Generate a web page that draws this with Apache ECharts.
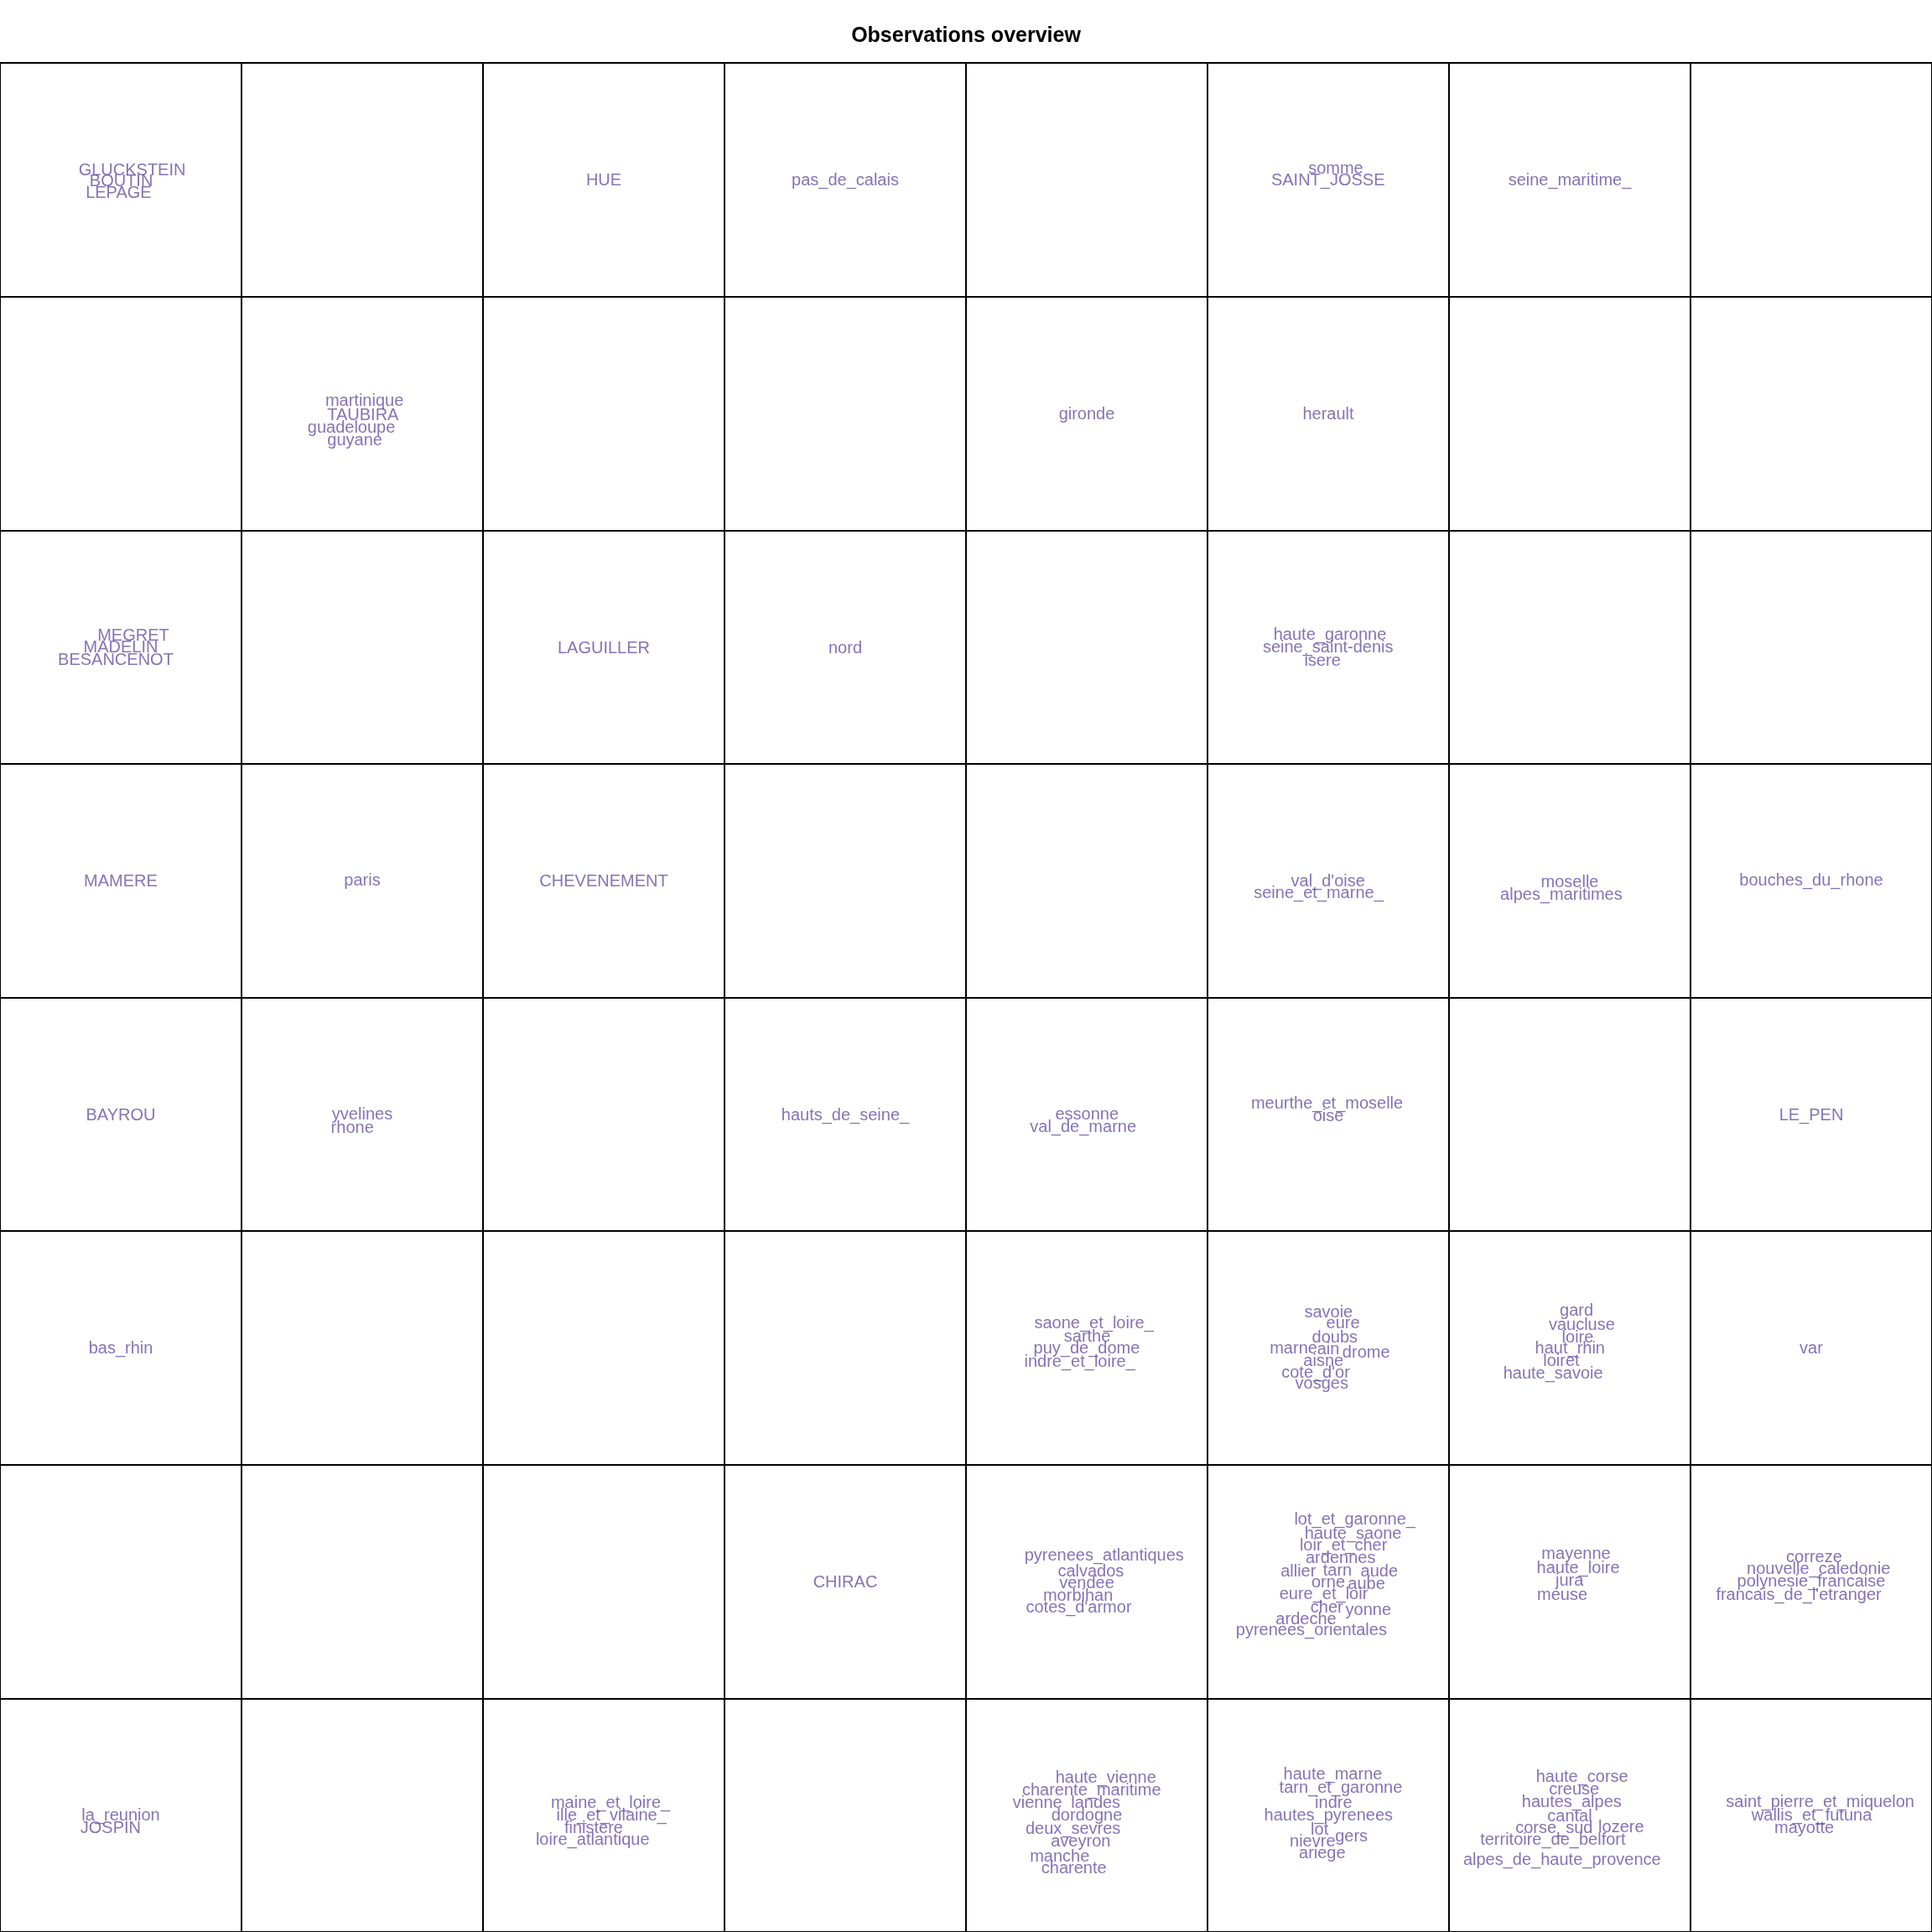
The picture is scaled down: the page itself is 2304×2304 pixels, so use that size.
<!DOCTYPE html>
<html>
<head>
<meta charset="utf-8">
<title>Observations overview</title>
<script src="https://cdn.jsdelivr.net/npm/echarts@6/dist/echarts.min.js"></script>
<style>
  html, body { margin: 0; padding: 0; background: #fff; }
  #conMain { width: 2304px; height: 2304px; }
</style>
</head>
<body>
<div id="conMain"></div>
<script>
// map is 8 x 8 cells, positions in cell units (x from left, y from top)
var mapCols = 8;
var mapRows = 8;

var obsNames = [
  'GLUCKSTEIN', 'BOUTIN', 'LEPAGE', 'HUE', 'pas_de_calais', 'somme', 'SAINT_JOSSE', 'seine_maritime_',
  'martinique', 'TAUBIRA', 'guadeloupe', 'guyane', 'gironde', 'herault',
  'MEGRET', 'MADELIN', 'BESANCENOT', 'LAGUILLER', 'nord', 'haute_garonne', 'seine_saint-denis', 'isere',
  'MAMERE', 'paris', 'CHEVENEMENT', "val_d'oise", 'seine_et_marne_', 'moselle', 'alpes_maritimes', 'bouches_du_rhone',
  'BAYROU', 'yvelines', 'rhone', 'hauts_de_seine_', 'essonne', 'val_de_marne', 'meurthe_et_moselle', 'oise', 'LE_PEN',
  'bas_rhin', 'saone_et_loire_', 'sarthe', 'puy_de_dome', 'indre_et_loire_',
  'savoie', 'eure', 'doubs', 'marne', 'ain', 'drome', 'aisne', "cote_d'or", 'vosges',
  'gard', 'vaucluse', 'loire', 'haut_rhin', 'loiret', 'haute_savoie', 'var',
  'CHIRAC', 'pyrenees_atlantiques', 'calvados', 'vendee', 'morbihan', "cotes_d'armor",
  'lot_et_garonne_', 'haute_saone', 'loir_et_cher', 'ardennes', 'allier', 'tarn', 'aude', 'orne', 'aube',
  'eure_et_loir', 'cher', 'yonne', 'ardeche', 'pyrenees_orientales',
  'mayenne', 'haute_loire', 'jura', 'meuse',
  'correze', 'nouvelle_caledonie', 'polynesie_francaise', "francais_de_l'etranger",
  'la_reunion', 'JOSPIN', 'maine_et_loire_', 'ille_et_vilaine_', 'finistere', 'loire_atlantique',
  'haute_vienne', 'charente_maritime', 'vienne', 'landes', 'dordogne', 'deux_sevres', 'aveyron', 'manche', 'charente',
  'haute_marne', 'tarn_et_garonne', 'indre', 'hautes_pyrenees', 'lot', 'nievre', 'gers', 'ariege',
  'haute_corse', 'creuse', 'hautes_alpes', 'cantal', 'corse_sud', 'lozere', 'territoire_de_belfort', 'alpes_de_haute_provence',
  'saint_pierre_et_miquelon', 'wallis_et_futuna', 'mayotte'
];

var obsX = [
  0.547, 0.502, 0.491, 2.5, 3.5, 5.531, 5.499, 6.5,
  1.509, 1.503, 1.455, 1.469, 4.5, 5.5,
  0.552, 0.5, 0.479, 2.5, 3.5, 5.507, 5.499, 5.476,
  0.5, 1.5, 2.5, 5.499, 5.46, 6.5, 6.465, 7.5,
  0.5, 1.5, 1.459, 3.5, 4.501, 4.485, 5.495, 5.5, 7.5,
  0.5, 4.53, 4.502, 4.5, 4.471,
  5.501, 5.561, 5.527, 5.356, 5.5, 5.657, 5.48, 5.448, 5.473,
  6.528, 6.55, 6.533, 6.501, 6.465, 6.431, 7.5,
  3.5, 4.572, 4.517, 4.5, 4.464, 4.467,
  5.61, 5.603, 5.563, 5.551, 5.376, 5.538, 5.711, 5.5, 5.658,
  5.481, 5.494, 5.666, 5.408, 5.43,
  6.526, 6.535, 6.499, 6.469,
  7.512, 7.53, 7.5, 7.448,
  0.5, 0.458, 2.528, 2.532, 2.458, 2.454,
  4.579, 4.52, 4.296, 4.537, 4.5, 4.443, 4.475, 4.388, 4.447,
  5.519, 5.552, 5.522, 5.501, 5.464, 5.435, 5.596, 5.475,
  6.551, 6.518, 6.508, 6.5, 6.435, 6.713, 6.43, 6.468,
  7.537, 7.502, 7.471
];

var obsY = [
  0.456, 0.502, 0.553, 0.5, 0.5, 0.449, 0.499, 0.5,
  1.441, 1.505, 1.559, 1.613, 1.5, 1.5,
  2.447, 2.498, 2.55, 2.5, 2.5, 2.444, 2.499, 2.555,
  3.5, 3.496, 3.5, 3.499, 3.551, 3.503, 3.557, 3.496,
  4.5, 4.497, 4.556, 4.5, 4.497, 4.551, 4.449, 4.504, 4.5,
  5.5, 5.392, 5.447, 5.5, 5.555,
  5.344, 5.392, 5.453, 5.5, 5.503, 5.516, 5.551, 5.604, 5.65,
  5.336, 5.399, 5.451, 5.5, 5.553, 5.605, 5.5,
  6.5, 6.386, 6.453, 6.505, 6.558, 6.607,
  6.231, 6.293, 6.343, 6.397, 6.453, 6.449, 6.453, 6.499, 6.506,
  6.55, 6.608, 6.618, 6.658, 6.705,
  6.377, 6.439, 6.494, 6.553,
  6.391, 6.444, 6.497, 6.555,
  7.498, 7.553, 7.445, 7.498, 7.553, 7.603,
  7.336, 7.39, 7.444, 7.444, 7.498, 7.556, 7.609, 7.675, 7.723,
  7.322, 7.379, 7.444, 7.499, 7.558, 7.609, 7.588, 7.659,
  7.331, 7.387, 7.441, 7.502, 7.553, 7.546, 7.603, 7.687,
  7.441, 7.499, 7.553
];

var labelData = [];
for (var i = 0; i < obsNames.length; i++) {
  labelData.push({ name: obsNames[i], value: [obsX[i], obsY[i]] });
}

var myChart = echarts.init(document.getElementById('conMain'));

var option = {
  animation: false,
  backgroundColor: '#ffffff',
  title: {
    text: 'Observations overview',
    left: 'center',
    top: 26,
    textStyle: {
      fontFamily: 'Liberation Sans',
      fontSize: 25,
      fontWeight: 'bold',
      color: '#000000'
    }
  },
  grid: { left: 0, right: 0, top: 75, bottom: 0 },
  xAxis: {
    type: 'value',
    min: 0,
    max: mapCols,
    interval: 1,
    axisLabel: { show: false },
    axisTick: { show: false },
    axisLine: { show: true, lineStyle: { color: '#000', width: 2 } },
    splitLine: { show: true, lineStyle: { color: '#000', width: 2 } }
  },
  yAxis: {
    type: 'value',
    inverse: true,
    min: 0,
    max: mapRows,
    interval: 1,
    axisLabel: { show: false },
    axisTick: { show: false },
    axisLine: { show: true, lineStyle: { color: '#000', width: 2 } },
    splitLine: { show: true, lineStyle: { color: '#000', width: 2 } }
  },
  series: [
    {
      type: 'scatter',
      symbolSize: 1,
      itemStyle: { color: 'rgba(0,0,0,0)' },
      label: {
        show: true,
        position: 'inside',
        offset: [0, 1.5],
        formatter: '{b}',
        fontFamily: 'Liberation Sans',
        fontSize: 20,
        color: '#6650a2',
        align: 'center',
        verticalAlign: 'middle'
      },
      data: labelData
    }
  ]
};

myChart.setOption(option);
</script>
</body>
</html>
